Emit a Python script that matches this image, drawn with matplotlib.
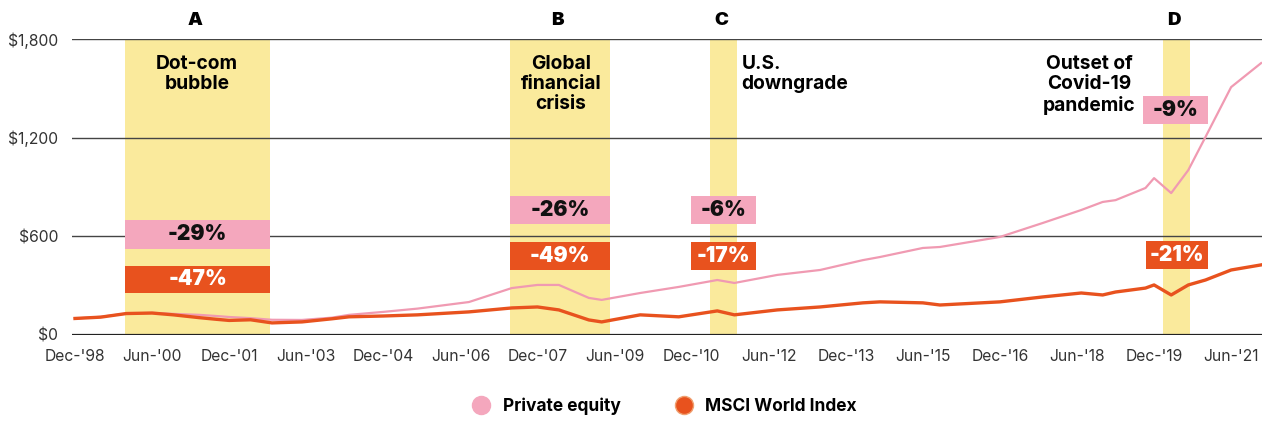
import numpy as np
import matplotlib
matplotlib.use("Agg")
import matplotlib.pyplot as plt
from matplotlib.patches import Rectangle
from matplotlib.lines import Line2D

plt.rcParams['font.family'] = ['Inter', 'DejaVu Sans']

# months since Dec-1998
months = [0, 6, 12, 18, 23, 29, 33, 36, 41, 46, 53, 60, 64, 72, 80, 92, 102,
          108, 113, 120, 123, 132, 141, 150, 154, 164, 174, 184, 188, 198,
          202, 216, 226, 235, 240, 243, 250, 252, 256, 260, 264, 270, 277]
private_equity = [100, 110, 130, 134, 128, 122, 115, 109, 102, 92, 91, 105,
                  122, 140, 160, 200, 285, 304, 304, 225, 213, 255, 292, 334,
                  316, 365, 395, 455, 474, 529, 535, 596, 681, 760, 809, 820,
                  894, 954, 863, 1003, 1204, 1508, 1654]
msci_world = [100, 108, 130, 133, 122, 105, 95, 88, 92, 73, 79, 98, 110, 115,
              122, 140, 164, 170, 152, 91, 79, 122, 110, 146, 122, 152, 170,
              195, 201, 195, 182, 201, 231, 255, 243, 261, 285, 304, 243, 304,
              334, 395, 426]

tick_months = list(range(0, 271, 18))
tick_labels = ["Dec-'98", "Jun-'00", "Dec-'01", "Jun-'03", "Dec-'04", "Jun-'06",
               "Dec-'07", "Jun-'09", "Dec-'10", "Jun-'12", "Dec-'13", "Jun-'15",
               "Dec-'16", "Jun-'18", "Dec-'19", "Jun-'21"]

# crisis periods (start, end in months), letter, caption
periods = [(11.7, 45.6), (101.6, 125.0), (148.4, 154.7), (254.0, 260.3)]
letters = ["A", "B", "C", "D"]
captions = ["Dot-com\nbubble", "Global\nfinancial\ncrisis", "U.S.\ndowngrade",
            "Outset of\nCovid-19\npandemic"]
pe_drawdown = ["-29%", "-26%", "-6%", "-9%"]
msci_drawdown = ["-47%", "-49%", "-17%", "-21%"]

YELLOW = "#faea9c"
PINK = "#f4a7bd"
ORANGE = "#e8521e"
PE_LINE = "#f09ab2"

fig = plt.figure(figsize=(12.8, 4.25), dpi=100)
ax = fig.add_axes([0.05625, 0.212, 0.93, 0.696])

for s, e in periods:
    ax.axvspan(s, e, color=YELLOW, lw=0, zorder=0)

for v in [600, 1200, 1800]:
    ax.axhline(v, color="#444444", lw=1.0, zorder=1)
ax.axhline(0, color="#222222", lw=1.6, zorder=1)

ax.plot(months, private_equity, color=PE_LINE, lw=1.6, zorder=3)
ax.plot(months, msci_world, color=ORANGE, lw=2.4, zorder=3)

ax.set_xlim(-0.7, 277.3)
ax.set_ylim(0, 1800)
ax.set_yticks([0, 600, 1200, 1800])
ax.set_yticklabels(["$0", "$600", "$1,200", "$1,800"])
ax.set_xticks(tick_months)
ax.set_xticklabels(tick_labels)
ax.tick_params(length=0, labelsize=11.3, colors="#333333")
ax.tick_params(axis="x", pad=10)
ax.tick_params(axis="y", pad=10)
for sp in ax.spines.values():
    sp.set_visible(False)

# letters above shading
letter_x = [(s + e) / 2 for s, e in periods]
for lx, lt in zip(letter_x, letters):
    ax.text(lx - 0.6, 1915, lt, ha="center", va="center", fontsize=13.5,
            fontweight="black", clip_on=False)

# captions
cap_kw = dict(va="top", fontsize=13.8, fontweight="bold", linespacing=1.17)
ax.text(28.5, 1705, captions[0], ha="center", **cap_kw)
ax.text(113.5, 1705, captions[1], ha="center", **cap_kw)
ax.text(155.7, 1705, captions[2], ha="left", **cap_kw)
ax.text(236.8, 1705, captions[3], ha="center", **cap_kw)

# drawdown boxes: (x0, x1) for pink and orange, y ranges
boxes = [
    ((11.7, 45.6), (523, 699), (11.7, 45.6), (255, 420)),
    ((101.6, 125.0), (675, 845), (101.6, 125.0), (395, 565)),
    ((143.9, 159.0), (675, 845), (143.9, 159.0), (395, 565)),
    ((249.3, 264.5), (1283, 1453), (250.0, 264.7), (401, 571)),
]
for (px, py, ox, oy), pt, ot in zip(boxes, pe_drawdown, msci_drawdown):
    ax.add_patch(Rectangle((px[0], py[0]), px[1] - px[0], py[1] - py[0],
                           color=PINK, lw=0, zorder=4))
    ax.text((px[0] + px[1]) / 2, (py[0] + py[1]) / 2, pt, ha="center",
            va="center", fontsize=15, fontweight="black", color="#111111",
            zorder=5)
    ax.add_patch(Rectangle((ox[0], oy[0]), ox[1] - ox[0], oy[1] - oy[0],
                           color=ORANGE, lw=0, zorder=4))
    ax.text((ox[0] + ox[1]) / 2, (oy[0] + oy[1]) / 2, ot, ha="center",
            va="center", fontsize=15, fontweight="black", color="white",
            zorder=5)

handles = [
    Line2D([], [], marker="o", ls="none", markersize=13, color=PINK,
           markeredgecolor=PINK, label="Private equity"),
    Line2D([], [], marker="o", ls="none", markersize=13, color=ORANGE,
           markeredgecolor="#f0a070", label="MSCI World Index"),
]
leg = fig.legend(handles=handles, loc="center", bbox_to_anchor=(0.516, 0.045),
                 ncol=2, frameon=False, columnspacing=2.6,
                 handletextpad=0.25, prop={"weight": "bold", "size": 12.5})

fig.savefig("out.png", dpi=100, facecolor="white")
